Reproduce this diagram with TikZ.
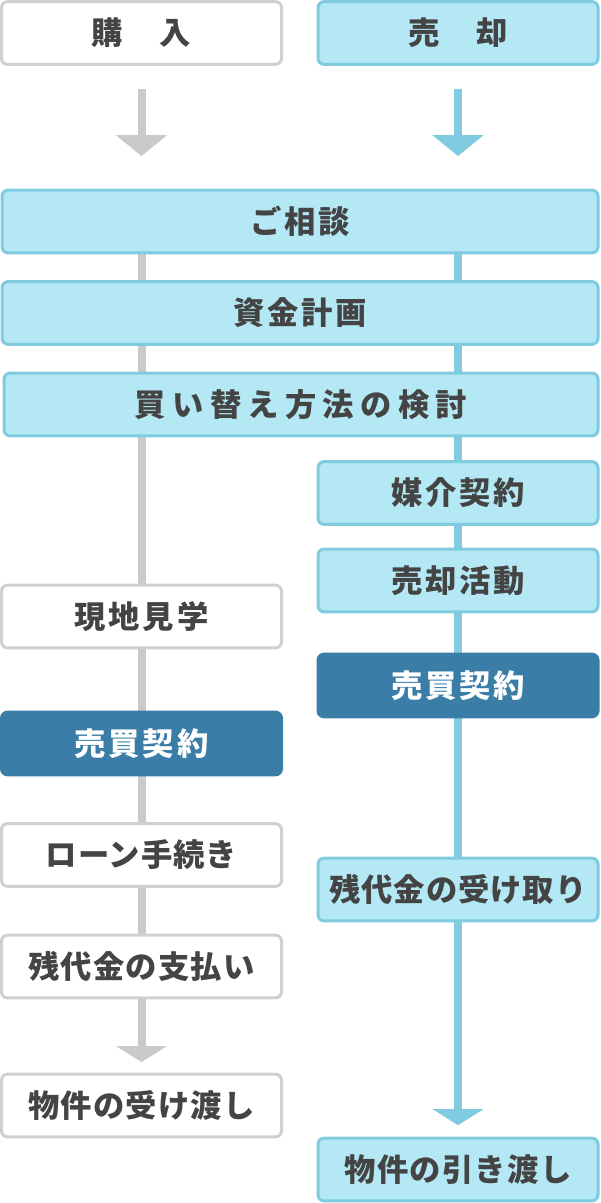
\documentclass[tikz,border=0pt]{standalone}
\usepackage{fontspec}
\usepackage{xcolor}
\usetikzlibrary{arrows.meta}
\usetikzlibrary{backgrounds}
\newfontfamily\jpfont{Noto Sans CJK JP}[LetterSpace=9]
\definecolor{textgray}{HTML}{444444}
\definecolor{boxgray}{HTML}{D0D0D0}
\definecolor{linegray}{HTML}{CACACA}
\definecolor{boxblue}{HTML}{B4E8F4}
\definecolor{lineblue}{HTML}{80CBE0}
\definecolor{darkblue}{HTML}{3A7EA8}

\begin{document}
\begin{tikzpicture}[x=0.75pt,y=-0.75pt,
	stepbase/.style={rectangle, rounded corners=4.5pt, line width=2.25pt, inner sep=0pt,
		minimum width=210pt, minimum height=47pt,
		font=\jpfont\bfseries\fontsize{23.5pt}{28pt}\selectfont, text=textgray},
	buybox/.style={stepbase, draw=boxgray, fill=white},
	sellbox/.style={stepbase, draw=lineblue, fill=boxblue},
	widebox/.style={sellbox, minimum width=447pt},
	keybox/.style={stepbase, draw=darkblue, fill=darkblue, text=white},
	buyline/.style={draw=linegray, line width=6pt},
	sellline/.style={draw=lineblue, line width=6pt}]
	\useasboundingbox (0,0) rectangle (600,1203);
	% headers
	\node[buybox] (kounyu) at (141.5,33) {購　入};
	\node[sellbox] (baikyaku) at (458,33) {売　却};
	% common steps
	\node[widebox] (soudan) at (300,221.5) {ご相談};
	\node[widebox] (shikin) at (300,313) {資金計画};
	\node[widebox, minimum width=445.5pt] (kentou) at (301,404.5) {\addfontfeature{LetterSpace=20}買い替え方法の検討};
	% selling side
	\node[sellbox] (baikai) at (458,493) {媒介契約};
	\node[sellbox] (katsudou) at (458,580.5) {売却活動};
	\node[keybox] (keiyakuR) at (458,685.5) {売買契約};
	\node[sellbox] (uketori) at (458,889.5) {\addfontfeature{LetterSpace=3}残代金の受け取り};
	\node[sellbox] (hikiwatashi) at (458,1169.5) {\addfontfeature{LetterSpace=4}物件の引き渡し};
	% buying side
	\node[buybox] (kengaku) at (141.5,616.5) {現地見学};
	\node[keybox] (keiyakuL) at (141.5,743.5) {売買契約};
	\node[buybox] (loan) at (141.5,855) {\addfontfeature{LetterSpace=3}ローン手続き};
	\node[buybox] (shiharai) at (141.5,966.5) {\addfontfeature{LetterSpace=4}残代金の支払い};
	\node[buybox] (ukewatashi) at (141.5,1105.5) {\addfontfeature{LetterSpace=4}物件の受け渡し};
	% flow lines
	\draw[buyline, -{Triangle[width=37.5pt,length=15.75pt]}, shorten <=17pt, shorten >=24.4pt]
		(kounyu.south) -- (soudan.north -| kounyu.south);
	\draw[sellline, -{Triangle[width=37.5pt,length=15.75pt]}, shorten <=17pt, shorten >=24.4pt]
		(baikyaku.south) -- (soudan.north -| baikyaku.south);
	\begin{scope}[on background layer]
		\draw[buyline, -{Triangle[width=37.5pt,length=12pt]}, shorten >=7.9pt]
			(soudan.south -| kounyu.south) -- (ukewatashi.north);
		\draw[sellline, -{Triangle[width=37.5pt,length=12pt]}, shorten >=8.6pt]
			(soudan.south -| baikyaku.south) -- (hikiwatashi.north);
	\end{scope}
\end{tikzpicture}
\end{document}
